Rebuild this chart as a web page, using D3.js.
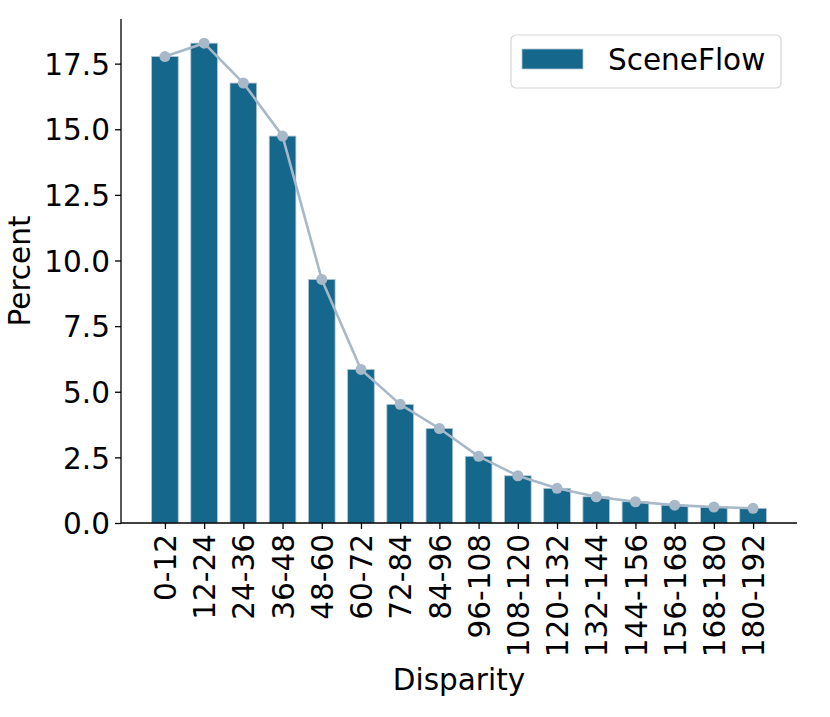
<!DOCTYPE html>
<html>
<head>
<meta charset="utf-8">
<script src="https://cdn.jsdelivr.net/npm/d3@7"></script>
<style>
  body { margin: 0; background: #fff; }
  svg text { font-family: "DejaVu Sans", sans-serif; }
</style>
</head>
<body>
<svg width="830" height="717"></svg>
<script>
const categories = ["0-12", "12-24", "24-36", "36-48", "48-60", "60-72", "72-84", "84-96",
  "96-108", "108-120", "120-132", "132-144", "144-156", "156-168", "168-180", "180-192"];
const percents = [17.77, 18.28, 16.76, 14.74, 9.28, 5.85, 4.52, 3.60,
  2.54, 1.80, 1.32, 1.00, 0.81, 0.68, 0.61, 0.56];
const yTicks = [0, 2.5, 5, 7.5, 10, 12.5, 15, 17.5];
const seriesName = "SceneFlow";

const svg = d3.select("svg"),
  plotLeft = 121, plotRight = 797, plotTop = 19, plotBottom = 523,
  barColor = "#15678b",
  lineColor = "#a7b8c8",
  fontSize = 29.5;

// index based x scale, matplotlib-like margins
const x = d3.scaleLinear()
  .domain([-1.12, categories.length - 1 + 1.12])
  .range([plotLeft, plotRight]);

const y = d3.scaleLinear()
  .domain([0, 19.2])
  .range([plotBottom, plotTop]);

const barW = (x(1) - x(0)) * 0.68;

// bars
svg.append("g").selectAll("rect")
  .data(percents)
  .enter().append("rect")
  .attr("x", (d, i) => x(i) - barW / 2)
  .attr("y", d => y(d))
  .attr("width", barW)
  .attr("height", d => y(0) - y(d))
  .attr("fill", barColor)
  .attr("stroke", "#b3c6d4")
  .attr("stroke-width", 0.8);

// line with markers
const line = d3.line()
  .x((d, i) => x(i))
  .y(d => y(d));

svg.append("path")
  .datum(percents)
  .attr("d", line)
  .attr("fill", "none")
  .attr("stroke", lineColor)
  .attr("stroke-width", 2.6)
  .attr("stroke-linejoin", "round");

svg.append("g").selectAll("circle")
  .data(percents)
  .enter().append("circle")
  .attr("cx", (d, i) => x(i))
  .attr("cy", d => y(d))
  .attr("r", 5.5)
  .attr("fill", lineColor);

// y axis
const yAxis = svg.append("g")
  .attr("transform", `translate(${plotLeft},0)`)
  .call(d3.axisLeft(y).tickValues(yTicks).tickFormat(d3.format(".1f")).tickSize(6).tickPadding(5));

// x axis
const xAxis = svg.append("g")
  .attr("transform", `translate(0,${plotBottom})`)
  .call(d3.axisBottom(x).tickValues(d3.range(categories.length)).tickFormat(i => categories[i]).tickSize(6).tickPadding(5));

[yAxis, xAxis].forEach(a => {
  a.selectAll("text").style("font-size", fontSize + "px").attr("fill", "#000");
  a.selectAll("line").attr("stroke", "#000").attr("stroke-width", 1.3);
  a.select(".domain").attr("stroke", "#000").attr("stroke-width", 1.3);
});
yAxis.select(".domain").attr("d", `M0,${plotTop}V${plotBottom}`);
xAxis.select(".domain").attr("d", `M${plotLeft},0H${plotRight}`);
yAxis.selectAll("text").attr("dy", "0.36em");

xAxis.selectAll("text")
  .attr("transform", "rotate(-90)")
  .attr("text-anchor", "end")
  .attr("x", -11)
  .attr("y", 0)
  .attr("dy", "0.36em");

// axis titles
svg.append("text")
  .attr("x", (plotLeft + plotRight) / 2)
  .attr("y", 690)
  .attr("text-anchor", "middle")
  .style("font-size", fontSize + "px")
  .text("Disparity");

svg.append("text")
  .attr("transform", `translate(30,${(plotTop + plotBottom) / 2}) rotate(-90)`)
  .attr("text-anchor", "middle")
  .style("font-size", fontSize + "px")
  .text("Percent");

// legend
const legend = svg.append("g").attr("id", "legend");
legend.append("rect")
  .attr("x", 511).attr("y", 35)
  .attr("width", 270).attr("height", 53)
  .attr("rx", 5)
  .attr("fill", "#fff")
  .attr("stroke", "#d5d5d5")
  .attr("stroke-width", 1.2);
legend.append("rect")
  .attr("x", 522).attr("y", 49)
  .attr("width", 61).attr("height", 20)
  .attr("fill", barColor)
  .attr("stroke", "#b3c6d4")
  .attr("stroke-width", 0.8);
legend.append("text")
  .attr("x", 608).attr("y", 70)
  .style("font-size", fontSize + "px")
  .text(seriesName);
</script>
</body>
</html>
